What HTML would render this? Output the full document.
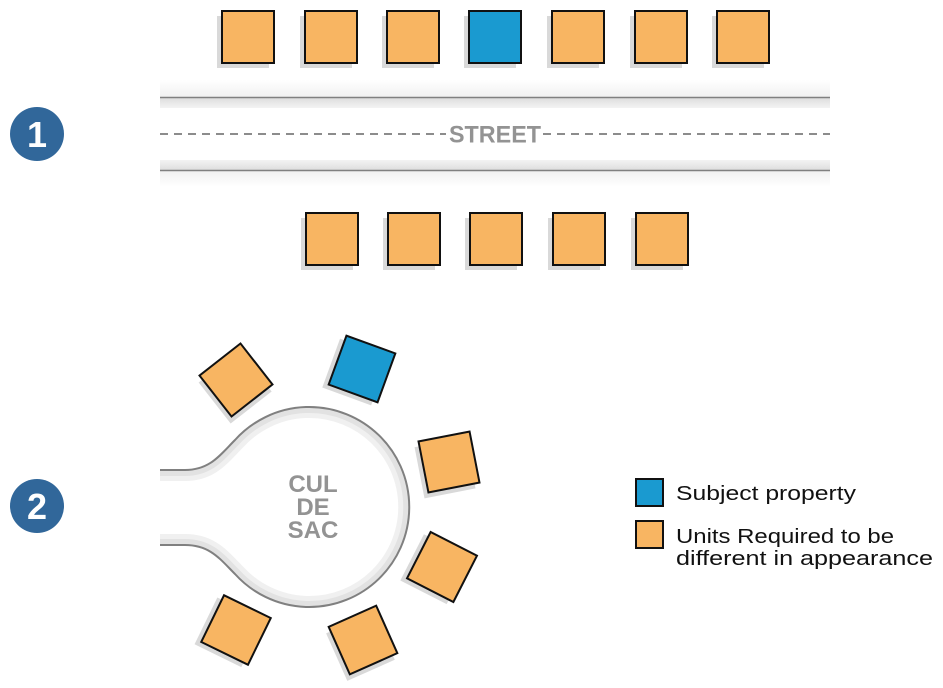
<!DOCTYPE html>
<html><head><meta charset="utf-8"><style>
html,body{margin:0;padding:0;background:#fff;width:943px;height:688px;overflow:hidden}
svg{display:block}
</style></head><body>
<svg width="943" height="688" viewBox="0 0 943 688" xmlns="http://www.w3.org/2000/svg">
<defs>
<linearGradient id="ga" x1="0" y1="0" x2="0" y2="1"><stop offset="0" stop-color="#fff"/><stop offset="1" stop-color="#f1f1f1"/></linearGradient>
<linearGradient id="gb" x1="0" y1="0" x2="0" y2="1"><stop offset="0" stop-color="#f1f1f1"/><stop offset="1" stop-color="#fff"/></linearGradient>
<linearGradient id="gi1" x1="0" y1="0" x2="0" y2="1"><stop offset="0" stop-color="#dedede"/><stop offset="1" stop-color="#f3f3f3"/></linearGradient>
<linearGradient id="gi2" x1="0" y1="0" x2="0" y2="1"><stop offset="0" stop-color="#f3f3f3"/><stop offset="1" stop-color="#dedede"/></linearGradient>
<clipPath id="road"><path d="M160,470 L185,470 C210,470 220,455 235,440 A100,100 0 1 1 235,574 C220,559 210,545 185,545 L160,545 Z"/></clipPath>
<g id="sq"><rect x="-31" y="-21" width="52" height="52" fill="#d9d9d9"/><rect x="-26" y="-26" width="52" height="52" fill="#f8b562" stroke="#111" stroke-width="2"/></g>
<g id="sqb"><rect x="-31" y="-21" width="52" height="52" fill="#d9d9d9"/><rect x="-26" y="-26" width="52" height="52" fill="#1a9ad0" stroke="#111" stroke-width="2"/></g>
</defs>

<!-- street -->
<rect x="160" y="80" width="670" height="17" fill="url(#ga)"/>
<rect x="160" y="98" width="670" height="10" fill="url(#gi1)"/>
<rect x="160" y="160" width="670" height="10" fill="url(#gi2)"/>
<rect x="160" y="171" width="670" height="16" fill="url(#gb)"/>
<line x1="160" y1="97.5" x2="830" y2="97.5" stroke="#808080" stroke-width="1.5"/>
<line x1="160" y1="170.5" x2="830" y2="170.5" stroke="#808080" stroke-width="1.5"/>
<line x1="160" y1="134" x2="446" y2="134" stroke="#666" stroke-width="1.6" stroke-dasharray="8,6"/>
<line x1="543" y1="134" x2="830" y2="134" stroke="#666" stroke-width="1.6" stroke-dasharray="8,6"/>
<text x="449" y="142.5" font-family="Liberation Sans, sans-serif" font-weight="bold" font-size="24" fill="#939393" textLength="92" lengthAdjust="spacingAndGlyphs">STREET</text>

<!-- top row -->
<use href="#sq" x="248" y="37"/>
<use href="#sq" x="331" y="37"/>
<use href="#sq" x="413" y="37"/>
<use href="#sqb" x="495" y="37"/>
<use href="#sq" x="578" y="37"/>
<use href="#sq" x="661" y="37"/>
<use href="#sq" x="743" y="37"/>
<!-- bottom row -->
<use href="#sq" x="332" y="239"/>
<use href="#sq" x="414" y="239"/>
<use href="#sq" x="496" y="239"/>
<use href="#sq" x="579" y="239"/>
<use href="#sq" x="662" y="239"/>

<!-- badges -->
<circle cx="37" cy="134" r="27" fill="#31679a"/>
<text x="37" y="147" text-anchor="middle" font-family="Liberation Sans, sans-serif" font-weight="bold" font-size="36" fill="#fff">1</text>
<circle cx="37" cy="506" r="27" fill="#31679a"/>
<text x="37" y="519" text-anchor="middle" font-family="Liberation Sans, sans-serif" font-weight="bold" font-size="36" fill="#fff">2</text>

<!-- cul de sac -->
<g clip-path="url(#road)">
<path d="M160,470 L185,470 C210,470 220,455 235,440 A100,100 0 1 1 235,574 C220,559 210,545 185,545 L160,545" fill="none" stroke="#f0f0f0" stroke-width="22"/>
<path d="M160,470 L185,470 C210,470 220,455 235,440 A100,100 0 1 1 235,574 C220,559 210,545 185,545 L160,545" fill="none" stroke="#e2e2e2" stroke-width="12"/>
</g>
<path d="M160,470 L185,470 C210,470 220,455 235,440 A100,100 0 1 1 235,574 C220,559 210,545 185,545 L160,545" fill="none" stroke="#808080" stroke-width="2"/>
<g font-family="Liberation Sans, sans-serif" font-weight="bold" font-size="24" fill="#939393" text-anchor="middle">
<text x="313" y="492">CUL</text>
<text x="313" y="515">DE</text>
<text x="313" y="538">SAC</text>
</g>

<use href="#sq" transform="translate(236,380) rotate(-38)"/>
<use href="#sqb" transform="translate(362,369) rotate(20)"/>
<use href="#sq" transform="translate(449,462) rotate(-11)"/>
<use href="#sq" transform="translate(442,567) rotate(27)"/>
<use href="#sq" transform="translate(363,640) rotate(-24)"/>
<use href="#sq" transform="translate(236,630) rotate(26)"/>

<!-- legend -->
<rect x="636" y="479" width="27" height="27" fill="#1a9ad0" stroke="#111" stroke-width="2"/>
<rect x="636" y="521" width="27" height="27" fill="#f8b562" stroke="#111" stroke-width="2"/>
<g font-family="Liberation Sans, sans-serif" font-size="20" fill="#111">
<text x="676" y="500" textLength="180" lengthAdjust="spacingAndGlyphs">Subject property</text>
<text x="676" y="543" textLength="218" lengthAdjust="spacingAndGlyphs">Units Required to be</text>
<text x="676" y="565" textLength="257" lengthAdjust="spacingAndGlyphs">different in appearance</text>
</g>
</svg>
</body></html>
